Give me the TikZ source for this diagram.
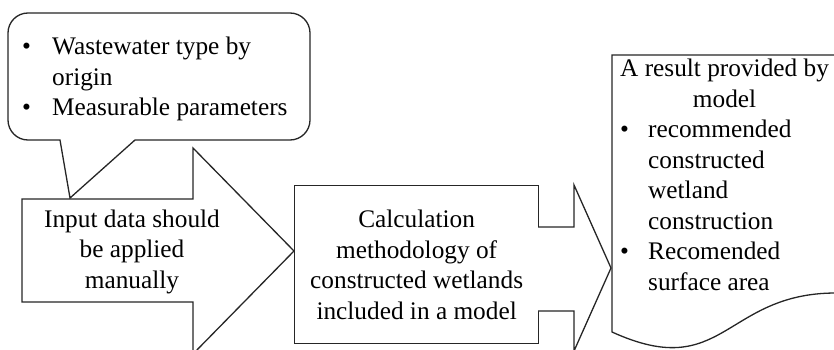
\documentclass[tikz,border=0pt]{standalone}
\usepackage{fontspec}
\setmainfont{Liberation Serif}

\begin{document}
\begin{tikzpicture}[x=1pt, y=-1pt,
    blockline/.style={draw=black!85, line width=1.3pt, fill=white, line join=miter},
    txt/.style={font=\fontsize{25.3}{30.5}\selectfont, inner sep=0pt}]
  \useasboundingbox (0,0) rectangle (834,350);
  \clip (0,0) rectangle (834,350);

  % callout with the input data
  \draw[blockline] (60,140) -- (70,198) -- (135,140) [rounded corners=20pt] -- (310,140) -- (310,13) -- (8,13) -- (8,140) [sharp corners] -- cycle;
  % big arrow into the model
  \draw[blockline] (22,199) -- (193,199) -- (193,148) -- (294,251) -- (193,354) -- (193,302) -- (22,302) -- cycle;
  \node[blockline, txt, minimum width=244pt, minimum height=158pt, align=center, anchor=north west] (calc) at (294,185)
    {Calculation\\methodology of\\constructed wetlands\\included in a model};
  % arrow out of the model
  \draw[blockline] (538,227) -- (574,227) -- (574,185) -- (611,268) -- (574,351) -- (574,311) -- (538,311);
  % document with the result
  \draw[blockline] (612,332) -- (612,55) -- (836,55) -- (836,293) .. controls (724,293) and (724,383) .. (612,332) -- cycle;

  \node[txt, anchor=base west] (input) at (22,55)
    {\begin{tabular}[t]{@{}p{30pt}@{}l@{}}\textbullet & Wastewater type by\\ & origin\\ \textbullet & Measurable parameters\end{tabular}};
  \node[txt, anchor=base] (manual) at (132,227)
    {\begin{tabular}[t]{@{}c@{}}Input data should\\be applied\\manually\end{tabular}};
  \node[txt, anchor=base west] (result) at (620,77)
    {\begin{tabular}[t]{@{}p{28pt}@{}l@{}}\multicolumn{2}{@{}c@{}}{A result provided by}\\ \multicolumn{2}{@{}c@{}}{model}\\
      \textbullet & recommended\\ & constructed\\ & wetland\\ & construction\\ \textbullet & Recomended\\ & surface area\end{tabular}};
\end{tikzpicture}
\end{document}
